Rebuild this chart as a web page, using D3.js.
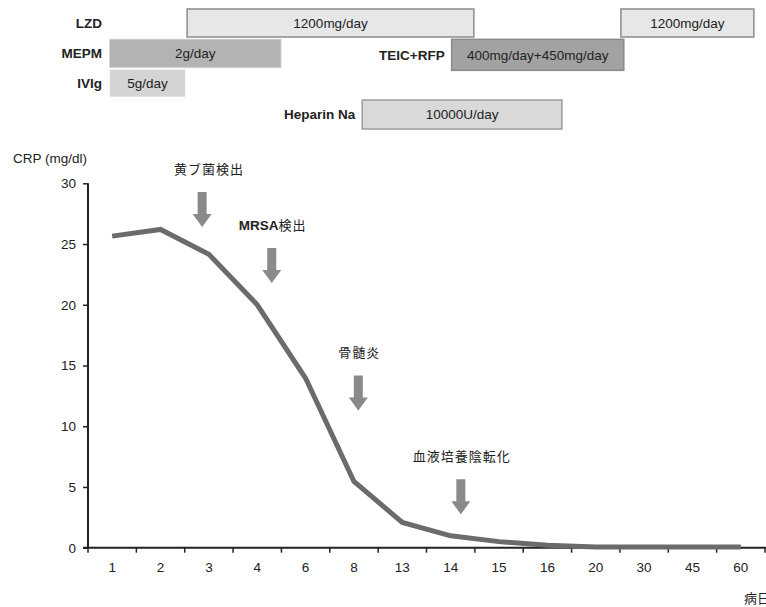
<!DOCTYPE html>
<html><head><meta charset="utf-8">
<script src="https://cdn.jsdelivr.net/npm/d3@7"></script>
<style>
html,body{margin:0;padding:0;background:#fff;}
svg{display:block;font-family:"Liberation Sans",Arial,"Noto Sans CJK JP",sans-serif;}
</style>
</head><body>
<svg id="c" width="766" height="607"></svg>
<script>
// ---- data ----
const days = ["1","2","3","4","6","8","13","14","15","16","20","30","45","60"];
const crp = [25.65, 26.2, 24.15, 20.0, 13.95, 5.45, 2.08, 0.98, 0.5, 0.2, 0.05, 0.05, 0.05, 0.05];
const yTicks = [0, 5, 10, 15, 20, 25, 30];

// treatments: start/end in day-axis band units, row index
const drugNames = ["LZD", "LZD", "MEPM", "TEIC+RFP", "IVIg", "Heparin Na"];
const drugDoses = ["1200mg/day", "1200mg/day", "2g/day", "400mg/day+450mg/day", "5g/day", "10000U/day"];
const drugStart = [2.05, 11.02, 0.45, 7.52, 0.45, 5.67];
const drugEnd   = [7.98, 13.77, 3.99, 11.08, 2.01, 9.8];
const drugRow   = [0, 0, 1, 1, 2, 3];
const drugShowLabel = [true, false, true, true, true, true];

// events (arrows): position in band units, arrow tip CRP value
const eventBold = ["", "MRSA", "", ""];
const eventLabels = ["黄ブ菌検出", "検出", "骨髄炎", "血液培養陰転化"];
const eventPos = [2.36, 3.80, 5.59, 7.71];
const eventTip = [26.4, 21.8, 11.3, 2.75];

// ---- layout ----
const svg = d3.select("#c");
const pL = 88, pR = 765, pT = 183.3, pB = 547.7;
const FS = 13.5;

const x = d3.scaleBand().domain(days).range([pL, pR]).paddingInner(0).paddingOuter(0);
const u = d3.scaleLinear().domain([0, days.length]).range([pL, pR]);
const y = d3.scaleLinear().domain([0, 30]).range([pB, pT]);
const rowY = d3.scaleLinear().domain([0, 3]).range([9, 100]);

// ---- treatment bars ----
const styles = {
  "LZD": {fill: "#e7e7e7", stroke: "#8c8c8c", sw: 1.5, h: 28},
  "MEPM": {fill: "#b3b3b3", stroke: "#c9c9c9", sw: 1, h: 28},
  "TEIC+RFP": {fill: "#a2a2a2", stroke: "#8a8a8a", sw: 1.5, h: 31},
  "IVIg": {fill: "#d4d4d4", stroke: "none", sw: 0, h: 27},
  "Heparin Na": {fill: "#d9d9d9", stroke: "#9c9c9c", sw: 1.5, h: 29}
};
const drugs = drugNames.map((n, i) => ({name: n, dose: drugDoses[i], s: drugStart[i], e: drugEnd[i], row: drugRow[i], show: drugShowLabel[i]}));
const dg = svg.append("g");
drugs.forEach(d => {
  const st = styles[d.name];
  const y0 = rowY(d.row);
  dg.append("rect").attr("x", u(d.s)).attr("y", y0).attr("width", u(d.e) - u(d.s)).attr("height", st.h)
    .attr("fill", st.fill).attr("stroke", st.stroke).attr("stroke-width", st.sw);
  dg.append("text").attr("x", (u(d.s) + u(d.e)) / 2).attr("y", y0 + st.h / 2).attr("dy", "0.36em")
    .attr("text-anchor", "middle").attr("font-size", FS).attr("fill", "#222").text(d.dose);
  if (d.show) {
    const lx = d.row === 1 && d.s > 5 ? u(d.s) - 7 : (d.row === 3 ? u(d.s) - 7 : 102);
    dg.append("text").attr("x", lx).attr("y", y0 + st.h / 2).attr("dy", "0.36em")
      .attr("text-anchor", "end").attr("font-size", FS).attr("font-weight", "bold").attr("fill", "#222").text(d.name);
  }
});

// ---- axes ----
const yAxis = d3.axisLeft(y).tickValues(yTicks).tickSize(5).tickPadding(7);
const ya = svg.append("g").attr("transform", `translate(${pL},0)`).call(yAxis);
ya.select(".domain").attr("stroke", "#222").attr("stroke-width", 2).attr("d", `M0,${pT}V${pB}`);
ya.selectAll(".tick line").attr("stroke", "#222").attr("stroke-width", 1.5);
ya.selectAll(".tick text").attr("font-size", FS).attr("fill", "#222").attr("font-family", "Liberation Sans, Arial, sans-serif");

const xa = svg.append("g").attr("transform", `translate(0,${pB})`);
xa.append("line").attr("x1", pL - 5).attr("x2", pR + 1).attr("y1", 0).attr("y2", 0).attr("stroke", "#222").attr("stroke-width", 2);
const bounds = days.map(d => x(d)).concat([pR]);
xa.selectAll("line.t").data(bounds).join("line").attr("class", "t")
  .attr("x1", d => d).attr("x2", d => d).attr("y1", 0).attr("y2", 5).attr("stroke", "#222").attr("stroke-width", 1.5);
xa.selectAll("text.t").data(days).join("text").attr("class", "t")
  .attr("x", d => x(d) + x.bandwidth() / 2).attr("y", 24).attr("text-anchor", "middle")
  .attr("font-size", FS).attr("fill", "#222").text(d => d);

// axis titles
svg.append("text").attr("x", 13).attr("y", 163).attr("font-size", FS).attr("fill", "#222").text("CRP (mg/dl)");
svg.append("text").attr("x", 744).attr("y", 603).attr("font-size", 13).attr("fill", "#222")
  .attr("font-family", "Noto Sans CJK JP, sans-serif").text("病日");

// ---- line ----
const pts = days.map((d, i) => [x(d) + x.bandwidth() / 2, y(crp[i])]);
svg.append("path").attr("d", d3.line()(pts)).attr("fill", "none").attr("stroke", "#6b6b6b")
  .attr("stroke-width", 5).attr("stroke-linejoin", "miter");

// ---- event arrows ----
const eg = svg.append("g");
eventLabels.forEach((lab, i) => {
  const ax = u(eventPos[i]);
  const tip = y(eventTip[i]);
  const H = 35, hh = 13, sw = 4.5, hw = 9.5;
  const t0 = tip - H;
  const p = `M${ax - sw},${t0}H${ax + sw}V${tip - hh}H${ax + hw}L${ax},${tip}L${ax - hw},${tip - hh}H${ax - sw}Z`;
  eg.append("path").attr("d", p).attr("fill", "#8a8a8a");
  const t = eg.append("text").attr("x", ax + (i === 0 ? 7 : 1)).attr("y", t0 - 18).attr("text-anchor", "middle")
    .attr("font-size", 13).attr("fill", "#222")
    .attr("font-family", "Liberation Sans, Arial, Noto Sans CJK JP, sans-serif");
  if (eventBold[i]) t.append("tspan").attr("font-weight", "bold").attr("font-size", FS).text(eventBold[i]);
  t.append("tspan").attr("letter-spacing", 1).text(lab);
});
</script>
</body></html>
